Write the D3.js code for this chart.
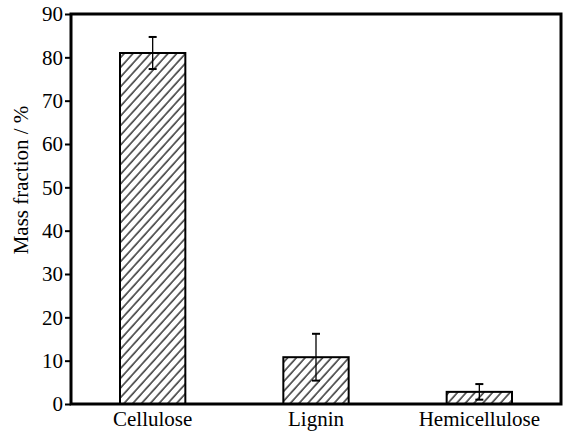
<!DOCTYPE html>
<html>
<head>
<meta charset="utf-8">
<script src="https://cdn.jsdelivr.net/npm/d3@7"></script>
<style>
body{margin:0;background:#fff}
svg text{font-family:'Times New Roman','Liberation Serif','DejaVu Serif',serif !important;fill:#000}
</style>
</head>
<body>
<svg id="graph"></svg>
<script>
var categories=["Cellulose","Lignin","Hemicellulose"]
var values=[81,10.8,2.8]
var errors=[3.7,5.4,1.8]
var yTicks=[0,10,20,30,40,50,60,70,80,90]

var screen={width:570,height:435}
var margins={left:71,right:9,top:14,bottom:31}
var graph={width:screen.width-margins.left-margins.right,height:screen.height-margins.top-margins.bottom}
var serif="'Times New Roman','Liberation Serif','DejaVu Serif',serif"

var svg=d3.select("#graph").attr("width",screen.width).attr("height",screen.height)

var defs=svg.append("defs")
defs.append("pattern")
    .attr("id","hatch")
    .attr("patternUnits","userSpaceOnUse")
    .attr("width",6.5).attr("height",10)
    .attr("patternTransform","rotate(42)")
    .append("line")
    .attr("x1",1).attr("y1",0).attr("x2",1).attr("y2",10)
    .attr("stroke","#000").attr("stroke-width",1.2)

var target=svg.append("g").attr("transform","translate("+margins.left+","+margins.top+")")

var xScale=d3.scaleBand().domain(categories).range([0,graph.width]).paddingInner(0.6).paddingOuter(0.3)
var yScale=d3.scaleLinear().domain([0,90]).range([graph.height,0])

var data=categories.map(function(c,i){return {name:c,value:values[i],err:errors[i]}})

// bars
target.selectAll("rect.bar").data(data).enter().append("rect")
    .attr("class","bar")
    .attr("x",function(d){return xScale(d.name)})
    .attr("y",function(d){return yScale(d.value)})
    .attr("width",xScale.bandwidth())
    .attr("height",function(d){return graph.height-yScale(d.value)})
    .attr("fill","url(#hatch)")
    .attr("stroke","#000").attr("stroke-width",2)

// error bars
var cx=function(d){return xScale(d.name)+xScale.bandwidth()/2}
var eb=target.selectAll("g.err").data(data).enter().append("g").attr("class","err")
    .attr("stroke","#000").attr("stroke-width",1.3)
eb.append("line")
    .attr("x1",cx).attr("x2",cx)
    .attr("y1",function(d){return yScale(d.value+d.err)})
    .attr("y2",function(d){return yScale(d.value-d.err)})
eb.append("line")
    .attr("x1",function(d){return cx(d)-4})
    .attr("x2",function(d){return cx(d)+4})
    .attr("y1",function(d){return yScale(d.value+d.err)})
    .attr("y2",function(d){return yScale(d.value+d.err)})
    .attr("stroke-width",2)
eb.append("line")
    .attr("x1",function(d){return cx(d)-4})
    .attr("x2",function(d){return cx(d)+4})
    .attr("y1",function(d){return yScale(d.value-d.err)})
    .attr("y2",function(d){return yScale(d.value-d.err)})
    .attr("stroke-width",2)

// frame
target.append("rect")
    .attr("x",0).attr("y",0).attr("width",graph.width).attr("height",graph.height)
    .attr("fill","none").attr("stroke","#000").attr("stroke-width",3)

// axes
var yAxis=d3.axisLeft(yScale).tickValues(yTicks).tickSize(6).tickPadding(2)
var gy=target.append("g").call(yAxis)
    .attr("font-family",serif).attr("font-size",21)
gy.select(".domain").remove()
gy.selectAll(".tick line").attr("stroke-width",2)

var xAxis=d3.axisBottom(xScale).tickSize(0).tickPadding(7)
var gx=target.append("g").attr("transform","translate(0,"+graph.height+")").call(xAxis)
    .attr("font-family",serif).attr("font-size",21)
gx.select(".domain").remove()

svg.append("text")
    .text("Mass fraction / %")
    .attr("text-anchor","middle")
    .attr("font-family",serif)
    .attr("font-size",21)
    .attr("transform","translate(28,180) rotate(-90)")
</script>
</body>
</html>
